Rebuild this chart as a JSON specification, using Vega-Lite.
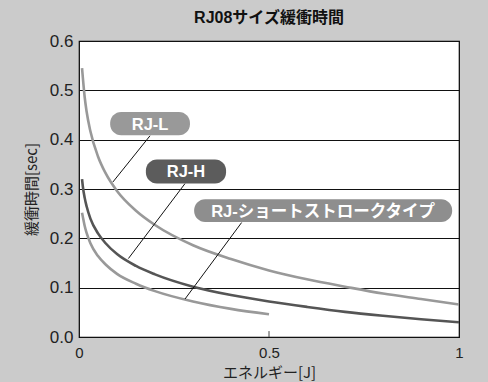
{
  "$schema": "https://vega.github.io/schema/vega-lite/v6.json",
  "width": 380,
  "height": 296,
  "autosize": "none",
  "padding": {"left": 79, "top": 41, "right": 29, "bottom": 45},
  "background": "#cbcbcb",
  "title": {"text": "RJ08サイズ緩衝時間", "fontSize": 16, "fontWeight": "bold", "color": "#111", "offset": 6, "font": "Liberation Sans, Noto Sans CJK JP", "anchor": "middle"},
  "config": {
    "view": {"fill": "white", "stroke": "black", "strokeWidth": 1.2},
    "font": "Liberation Sans, Noto Sans CJK JP"
  },
  "datasets": {
    "curves": [
      {"s": "RJ-L", "x": 0.008, "y": 0.545}, {"s": "RJ-L", "x": 0.01, "y": 0.527}, {"s": "RJ-L", "x": 0.015, "y": 0.486}, {"s": "RJ-L", "x": 0.02, "y": 0.457}, {"s": "RJ-L", "x": 0.03, "y": 0.417}, {"s": "RJ-L", "x": 0.05, "y": 0.366}, {"s": "RJ-L", "x": 0.07, "y": 0.332}, {"s": "RJ-L", "x": 0.1, "y": 0.296}, {"s": "RJ-L", "x": 0.15, "y": 0.256}, {"s": "RJ-L", "x": 0.2, "y": 0.227}, {"s": "RJ-L", "x": 0.3, "y": 0.186}, {"s": "RJ-L", "x": 0.4, "y": 0.158}, {"s": "RJ-L", "x": 0.5, "y": 0.135}, {"s": "RJ-L", "x": 0.6, "y": 0.117}, {"s": "RJ-L", "x": 0.7, "y": 0.102}, {"s": "RJ-L", "x": 0.8, "y": 0.088}, {"s": "RJ-L", "x": 0.9, "y": 0.077}, {"s": "RJ-L", "x": 1.0, "y": 0.066},
      {"s": "RJ-H", "x": 0.008, "y": 0.32}, {"s": "RJ-H", "x": 0.01, "y": 0.306}, {"s": "RJ-H", "x": 0.015, "y": 0.282}, {"s": "RJ-H", "x": 0.02, "y": 0.265}, {"s": "RJ-H", "x": 0.03, "y": 0.24}, {"s": "RJ-H", "x": 0.05, "y": 0.21}, {"s": "RJ-H", "x": 0.07, "y": 0.19}, {"s": "RJ-H", "x": 0.1, "y": 0.168}, {"s": "RJ-H", "x": 0.15, "y": 0.144}, {"s": "RJ-H", "x": 0.2, "y": 0.127}, {"s": "RJ-H", "x": 0.3, "y": 0.102}, {"s": "RJ-H", "x": 0.4, "y": 0.085}, {"s": "RJ-H", "x": 0.5, "y": 0.072}, {"s": "RJ-H", "x": 0.6, "y": 0.061}, {"s": "RJ-H", "x": 0.7, "y": 0.051}, {"s": "RJ-H", "x": 0.8, "y": 0.043}, {"s": "RJ-H", "x": 0.9, "y": 0.036}, {"s": "RJ-H", "x": 1.0, "y": 0.03},
      {"s": "RJ-S", "x": 0.008, "y": 0.252}, {"s": "RJ-S", "x": 0.01, "y": 0.244}, {"s": "RJ-S", "x": 0.015, "y": 0.225}, {"s": "RJ-S", "x": 0.02, "y": 0.211}, {"s": "RJ-S", "x": 0.03, "y": 0.19}, {"s": "RJ-S", "x": 0.05, "y": 0.164}, {"s": "RJ-S", "x": 0.07, "y": 0.147}, {"s": "RJ-S", "x": 0.1, "y": 0.128}, {"s": "RJ-S", "x": 0.15, "y": 0.108}, {"s": "RJ-S", "x": 0.2, "y": 0.093}, {"s": "RJ-S", "x": 0.3, "y": 0.072}, {"s": "RJ-S", "x": 0.4, "y": 0.057}, {"s": "RJ-S", "x": 0.5, "y": 0.046}
    ],
    "labels": [
      {"s": "RJ-L", "label": "RJ-L", "x1": 0.082, "x2": 0.292, "y1": 0.409, "y2": 0.456, "cx": 0.187, "cy": 0.4325, "lx1": 0.187, "ly1": 0.408, "lx2": 0.089, "ly2": 0.314},
      {"s": "RJ-H", "label": "RJ-H", "x1": 0.176, "x2": 0.387, "y1": 0.311, "y2": 0.36, "cx": 0.2815, "cy": 0.3355, "lx1": 0.279, "ly1": 0.311, "lx2": 0.13, "ly2": 0.159},
      {"s": "RJ-S", "label": "RJ-ショートストロークタイプ", "x1": 0.303, "x2": 0.982, "y1": 0.233, "y2": 0.279, "cx": 0.6425, "cy": 0.256, "lx1": 0.428, "ly1": 0.232, "lx2": 0.279, "ly2": 0.077}
    ],
    "tick": [{"x": 0.5, "y": 0, "y2": 0.012}]
  },
  "layer": [
    {
      "data": {"name": "curves"},
      "mark": {"type": "line", "strokeWidth": 2.6, "interpolate": "monotone"},
      "encoding": {
        "x": {"field": "x", "type": "quantitative", "scale": {"domain": [0, 1], "nice": false}, "title": "エネルギー[J]",
          "axis": {"values": [0, 0.5, 1], "format": "~g", "grid": false, "ticks": false, "domain": false, "labelFontSize": 15, "labelColor": "#222", "labelPadding": 8, "titleFontSize": 15, "titleFontWeight": "normal", "titleColor": "#222", "titlePadding": 5, "labelFont": "Liberation Sans", "titleFont": "Noto Sans CJK JP", "labelFlush": false}},
        "y": {"field": "y", "type": "quantitative", "scale": {"domain": [0, 0.6], "nice": false}, "title": "緩衝時間[sec]",
          "axis": {"values": [0, 0.1, 0.2, 0.3, 0.4, 0.5, 0.6], "format": ".1f", "grid": true, "gridColor": "#111", "gridWidth": 1, "ticks": false, "domain": false, "labelFontSize": 17, "labelColor": "#222", "labelPadding": 6, "titleFontSize": 15, "titleFontWeight": "normal", "titleColor": "#222", "titlePadding": 10, "labelFont": "Liberation Sans", "titleFont": "Noto Sans CJK JP"}},
        "color": {"field": "s", "type": "nominal", "scale": {"domain": ["RJ-L", "RJ-H", "RJ-S"], "range": ["#999999", "#555555", "#999999"]}, "legend": null},
        "detail": {"field": "s"}
      }
    },
    {
      "data": {"name": "labels"},
      "mark": {"type": "rule", "color": "#111", "strokeWidth": 1},
      "encoding": {
        "x": {"field": "lx1", "type": "quantitative", "title": "エネルギー[J]"},
        "y": {"field": "ly1", "type": "quantitative", "title": "緩衝時間[sec]"},
        "x2": {"field": "lx2"},
        "y2": {"field": "ly2"}
      }
    },
    {
      "data": {"name": "labels"},
      "mark": {"type": "rect", "cornerRadius": 11},
      "encoding": {
        "x": {"field": "x1", "type": "quantitative", "title": "エネルギー[J]"},
        "x2": {"field": "x2"},
        "y": {"field": "y1", "type": "quantitative", "title": "緩衝時間[sec]"},
        "y2": {"field": "y2"},
        "fill": {"field": "s", "type": "nominal", "scale": {"domain": ["RJ-L", "RJ-H", "RJ-S"], "range": ["#999999", "#5c5c5c", "#8e8e8e"]}, "legend": null}
      }
    },
    {
      "data": {"name": "labels"},
      "mark": {"type": "text", "color": "white", "fontWeight": "bold", "fontSize": 16.5, "font": "Liberation Sans, Noto Sans CJK JP", "baseline": "middle", "align": "center", "dy": 1},
      "encoding": {
        "x": {"field": "cx", "type": "quantitative", "title": "エネルギー[J]"},
        "y": {"field": "cy", "type": "quantitative", "title": "緩衝時間[sec]"},
        "text": {"field": "label"}
      }
    },
    {
      "data": {"name": "tick"},
      "mark": {"type": "rule", "color": "#444", "strokeWidth": 1},
      "encoding": {
        "x": {"field": "x", "type": "quantitative", "title": "エネルギー[J]"},
        "y": {"field": "y", "type": "quantitative", "title": "緩衝時間[sec]"},
        "y2": {"field": "y2"}
      }
    }
  ]
}
